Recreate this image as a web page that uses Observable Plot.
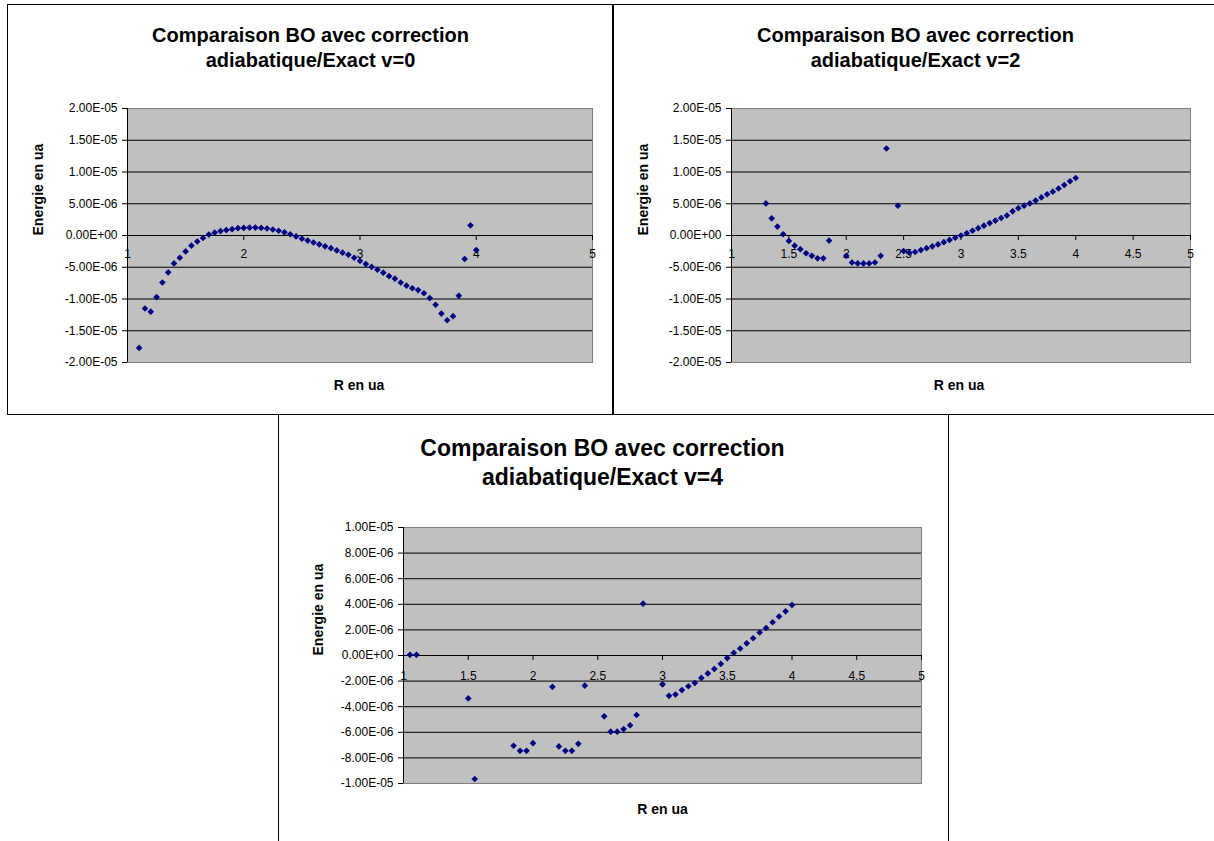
<!DOCTYPE html>
<html><head><meta charset="utf-8">
<script src="https://cdn.jsdelivr.net/npm/d3@7"></script>
<script src="https://cdn.jsdelivr.net/npm/@observablehq/plot@0.6"></script>
<style>
body{margin:0;background:#fff;}
#root{position:relative;width:1214px;height:841px;overflow:hidden;font-family:"Liberation Sans",Arial,sans-serif;background:#fff;}
.box{position:absolute;border:1px solid #000;box-sizing:border-box;}
.title{position:absolute;text-align:center;font-weight:bold;color:#000;font-family:"Liberation Sans",Arial,sans-serif;}
.chart{position:absolute;}
</style></head><body><div id="root"></div>
<script>
// ---------- Data (R in a.u., energy difference in a.u.) ----------
const R_v0 = [1.10,1.15,1.20,1.25,1.30,1.35,1.40,1.45,1.50,1.55,1.60,1.65,1.70,1.75,1.80,1.85,1.90,1.95,2.00,2.05,2.10,2.15,2.20,2.25,2.30,2.35,2.40,2.45,2.50,2.55,2.60,2.65,2.70,2.75,2.80,2.85,2.90,2.95,3.00,3.05,3.10,3.15,3.20,3.25,3.30,3.35,3.40,3.45,3.50,3.55,3.60,3.65,3.70,3.75,3.80,3.85,3.90,3.95,4.00];
const E_v0 = [-17.7e-6,-11.5e-6,-12.0e-6,-9.7e-6,-7.4e-6,-5.8e-6,-4.4e-6,-3.5e-6,-2.5e-6,-1.6e-6,-0.95e-6,-0.4e-6,0.15e-6,0.45e-6,0.7e-6,0.85e-6,1.0e-6,1.15e-6,1.2e-6,1.25e-6,1.25e-6,1.2e-6,1.1e-6,0.95e-6,0.75e-6,0.5e-6,0.2e-6,-0.15e-6,-0.5e-6,-0.8e-6,-1.1e-6,-1.4e-6,-1.7e-6,-2.0e-6,-2.35e-6,-2.7e-6,-3.05e-6,-3.5e-6,-4.0e-6,-4.5e-6,-4.95e-6,-5.4e-6,-5.85e-6,-6.4e-6,-6.8e-6,-7.4e-6,-7.9e-6,-8.3e-6,-8.6e-6,-9.1e-6,-9.85e-6,-10.9e-6,-12.3e-6,-13.35e-6,-12.7e-6,-9.5e-6,-3.7e-6,1.6e-6,-2.3e-6];

const R_v2 = [1.30,1.35,1.40,1.45,1.50,1.55,1.60,1.65,1.70,1.75,1.80,1.85,2.00,2.05,2.10,2.15,2.20,2.25,2.30,2.35,2.45,2.50,2.55,2.60,2.65,2.70,2.75,2.80,2.85,2.90,2.95,3.00,3.05,3.10,3.15,3.20,3.25,3.30,3.35,3.40,3.45,3.50,3.55,3.60,3.65,3.70,3.75,3.80,3.85,3.90,3.95,4.00];
const E_v2 = [5.05e-6,2.7e-6,1.4e-6,0.2e-6,-0.85e-6,-1.6e-6,-2.15e-6,-2.8e-6,-3.2e-6,-3.6e-6,-3.6e-6,-0.8e-6,-3.2e-6,-4.25e-6,-4.4e-6,-4.4e-6,-4.4e-6,-4.25e-6,-3.2e-6,13.7e-6,4.7e-6,-2.45e-6,-2.7e-6,-2.6e-6,-2.3e-6,-2.0e-6,-1.7e-6,-1.4e-6,-1.05e-6,-0.7e-6,-0.35e-6,0.0,0.35e-6,0.75e-6,1.15e-6,1.55e-6,1.95e-6,2.35e-6,2.75e-6,3.15e-6,3.8e-6,4.3e-6,4.7e-6,5.05e-6,5.5e-6,6.0e-6,6.5e-6,6.9e-6,7.4e-6,7.95e-6,8.55e-6,9.05e-6];

const R_v4 = [1.05,1.10,1.50,1.55,1.85,1.90,1.95,2.00,2.15,2.20,2.25,2.30,2.35,2.40,2.55,2.60,2.65,2.70,2.75,2.80,2.85,3.00,3.05,3.10,3.15,3.20,3.25,3.30,3.35,3.40,3.45,3.50,3.55,3.60,3.65,3.70,3.75,3.80,3.85,3.90,3.95,4.00];
const E_v4 = [0.05e-6,0.05e-6,-3.35e-6,-9.65e-6,-7.05e-6,-7.45e-6,-7.45e-6,-6.85e-6,-2.45e-6,-7.1e-6,-7.45e-6,-7.45e-6,-6.9e-6,-2.35e-6,-4.75e-6,-5.95e-6,-5.95e-6,-5.75e-6,-5.45e-6,-4.65e-6,4.05e-6,-2.25e-6,-3.15e-6,-3.05e-6,-2.7e-6,-2.4e-6,-2.15e-6,-1.75e-6,-1.4e-6,-1.05e-6,-0.65e-6,-0.2e-6,0.2e-6,0.55e-6,0.95e-6,1.35e-6,1.8e-6,2.15e-6,2.6e-6,3.05e-6,3.45e-6,3.95e-6];

// ---------- Ticks & labels ----------
const yTicksTop = [-2e-5,-1.5e-5,-1e-5,-5e-6,0,5e-6,1e-5,1.5e-5,2e-5];
const yLabelsTop = ["-2.00E-05","-1.50E-05","-1.00E-05","-5.00E-06","0.00E+00","5.00E-06","1.00E-05","1.50E-05","2.00E-05"];
const yTicksBottom = [-1e-5,-8e-6,-6e-6,-4e-6,-2e-6,0,2e-6,4e-6,6e-6,8e-6,1e-5];
const yLabelsBottom = ["-1.00E-05","-8.00E-06","-6.00E-06","-4.00E-06","-2.00E-06","0.00E+00","2.00E-06","4.00E-06","6.00E-06","8.00E-06","1.00E-05"];
const xTicksV0 = [1,2,3,4,5];
const xLabelsV0 = ["1","2","3","4","5"];
const xTicksHalf = [1,1.5,2,2.5,3,3.5,4,4.5,5];
const xLabelsHalf = ["1","1.5","2","2.5","3","3.5","4","4.5","5"];

const titles = ["Comparaison BO avec correction", "adiabatique/Exact v=0", "adiabatique/Exact v=2", "adiabatique/Exact v=4"];
const yTitle = "Energie en ua";
const xTitle = "R en ua";

const root = document.getElementById("root");
function addDiv(cls, css, html) {
  const d = document.createElement("div");
  d.className = cls;
  Object.assign(d.style, css);
  if (html) d.innerHTML = html;
  root.appendChild(d);
  return d;
}

// frames of the three chart boxes
addDiv("box", {left:"7px", top:"4px", width:"607px", height:"411px"});
addDiv("box", {left:"612px", top:"4px", width:"620px", height:"411px"});
addDiv("box", {left:"278px", top:"414px", width:"671px", height:"450px"});

function makeChart(c) {
  const fmt = d => { const i = c.yTicks.findIndex(t => Math.abs(t - d) < 1e-12); return i >= 0 ? c.yLabels[i] : ""; };
  return Plot.plot({
    width: c.width, height: c.height,
    marginLeft: c.ml, marginRight: c.mr, marginTop: c.mt, marginBottom: c.mb,
    style: {fontFamily: "'Liberation Sans', Arial, sans-serif", fontSize: "12px", color: "#000", background: "transparent", overflow: "visible"},
    x: {domain: c.xDomain, axis: null},
    y: {domain: c.yDomain},
    marks: [
      Plot.frame({fill: "#c0c0c0", stroke: "#808080"}),
      Plot.ruleY(c.yTicks.slice(1, -1), {stroke: "#000", strokeWidth: 1}),
      Plot.ruleX([c.xDomain[0]], {stroke: "#000", strokeWidth: 1}),
      Plot.axisY({ticks: c.yTicks, tickFormat: fmt, tickSize: 5, tickPadding: 5, fontSize: 12, label: null}),
      Plot.ruleX(c.xTicks, {x: d => d, y1: () => 0, y2: () => 0, insetTop: 0, insetBottom: -5, stroke: "#000"}),
      Plot.text(c.xTicks, {x: d => d, y: () => 0, text: (d, i) => c.xLabels[i], dy: c.xLabelDy, fontSize: 12}),
      Plot.dot(c.ys, {x: c.xs, y: c.ys, symbol: "diamond2", r: 3, fill: "#000080", stroke: "none"}),
      Plot.text([yTitle], {frameAnchor: "left", dx: c.yTitleDx, rotate: -90, fontWeight: "bold", fontSize: 14}),
      Plot.text([xTitle], {frameAnchor: "bottom", dy: c.xTitleDy, dx: c.xTitleDx, fontWeight: "bold", fontSize: 14})
    ]
  });
}

const charts = [
  {left: 8, top: 90, width: 604, height: 320, ml: 119, mr: 20, mt: 18, mb: 48,
   xDomain: [1, 5], xTicks: xTicksV0, xLabels: xLabelsV0, xLabelDy: 19,
   yDomain: [-2e-5, 2e-5], yTicks: yTicksTop, yLabels: yLabelsTop,
   xs: R_v0, ys: E_v0, yTitleDx: -89, xTitleDy: 27, xTitleDx: -1,
   title: [titles[0], titles[1]], tLeft: 8, tWidth: 605, tTop: 23, tSize: 20, tLine: 25},
  {left: 613, top: 90, width: 600, height: 320, ml: 118, mr: 23, mt: 18, mb: 48,
   xDomain: [1, 5], xTicks: xTicksHalf, xLabels: xLabelsHalf, xLabelDy: 19,
   yDomain: [-2e-5, 2e-5], yTicks: yTicksTop, yLabels: yLabelsTop,
   xs: R_v2, ys: E_v2, yTitleDx: -88, xTitleDy: 27, xTitleDx: -2,
   title: [titles[0], titles[2]], tLeft: 613, tWidth: 605, tTop: 23, tSize: 20, tLine: 25},
  {left: 280, top: 505, width: 667, height: 335, ml: 123, mr: 26, mt: 22, mb: 57,
   xDomain: [1, 5], xTicks: xTicksHalf, xLabels: xLabelsHalf, xLabelDy: 21,
   yDomain: [-1e-5, 1e-5], yTicks: yTicksBottom, yLabels: yLabelsBottom,
   xs: R_v4, ys: E_v4, yTitleDx: -85, xTitleDy: 30, xTitleDx: 0,
   title: [titles[0], titles[3]], tLeft: 279, tWidth: 647, tTop: 434, tSize: 23, tLine: 29}
];

for (const c of charts) {
  addDiv("title", {left: c.tLeft + "px", top: c.tTop + "px", width: c.tWidth + "px", fontSize: c.tSize + "px", lineHeight: c.tLine + "px"},
    c.title.join("<br>"));
  const holder = addDiv("chart", {left: c.left + "px", top: c.top + "px"});
  holder.appendChild(makeChart(c));
}
</script>
</body></html>
